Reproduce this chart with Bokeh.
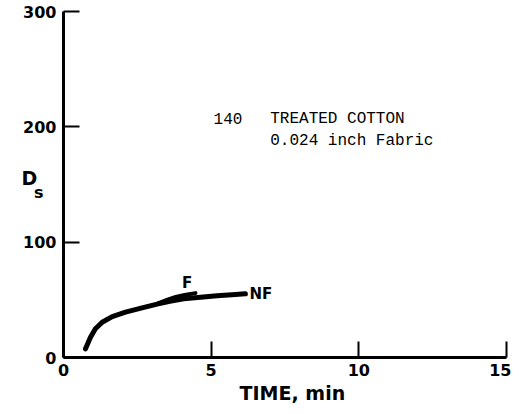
from bokeh.plotting import figure
from bokeh.models import Range1d, FixedTicker, Label
from bokeh.embed import file_html
from bokeh.resources import INLINE

# Data
nf_time = [0.745, 0.914, 1.08, 1.31, 1.65, 2.1, 2.66, 3.17, 3.6, 4.07, 4.64, 5.2, 5.7, 6.16]
nf_ds = [7.5, 17.6, 24.9, 30.6, 35.5, 39.3, 43, 46.3, 48.8, 50.9, 52.3, 53.5, 54.4, 55.2]
f_time = [3.2, 3.5, 3.8, 4.1, 4.47]
f_ds = [47, 50, 52.5, 54.2, 55.8]
x_ticks = [0, 5, 10, 15]
y_ticks = [0, 100, 200, 300]

W, H = 511, 406
X0, X15 = 63, 506     # pixel columns of time 0 and 15
Y0, Y300 = 357, 11    # pixel rows of Ds 0 and 300
kx = (X15 - X0) / 15.0
ky = (Y0 - Y300) / 300.0

p = figure(width=W, height=H,
           x_range=Range1d(-X0 / kx, 15 + (W - X15) / kx),
           y_range=Range1d(-(H - Y0) / ky, 300 + Y300 / ky),
           output_backend="svg", toolbar_location=None, min_border=0)
p.outline_line_color = None
p.grid.visible = False
p.background_fill_color = "white"
p.border_fill_color = "white"

for ax, ticks, bnd in ((p.xaxis[0], x_ticks, (0, 15)), (p.yaxis[0], y_ticks, (0, 300))):
    ax.ticker = FixedTicker(ticks=ticks)
    ax.fixed_location = 0
    ax.bounds = bnd
    ax.axis_line_width = 3
    ax.axis_line_color = "black"
    ax.major_tick_in = 16
    ax.major_tick_out = 0
    ax.major_tick_line_width = 2
    ax.major_tick_line_color = "black"
    ax.minor_tick_line_color = None
    ax.major_label_text_font = "DejaVu Sans"
    ax.major_label_text_font_style = "bold"
    ax.major_label_text_font_size = "16px"
    ax.major_label_text_color = "black"

p.yaxis.major_label_standoff = 7
p.xaxis.major_label_standoff = 6

p.line(nf_time, nf_ds, line_width=5, line_color="black", line_cap="round", line_join="round")
p.line(f_time, f_ds, line_width=4, line_color="black", line_cap="round", line_join="round")

def lab(x, y, text, font="DejaVu Sans", size="15px", style="bold", align="left"):
    p.add_layout(Label(x=x, y=y, text=text, text_font=font, text_font_style=style,
                       text_font_size=size, text_align=align, text_baseline="middle",
                       text_color="black"))

lab(4.19, 65, "F", align="center")
lab(6.3, 55, "NF")

lab(5.08, 207, "140", font="Liberation Mono", size="16px", style="normal")
lab(7.0, 207, "TREATED COTTON", font="Liberation Mono", size="16px", style="normal")
lab(7.0, 188, "0.024 inch Fabric", font="Liberation Mono", size="16px", style="normal")

# x axis title
lab(7.75, -30.5, "TIME, min", size="19px", style="bold", align="center")

# y axis title D_s
lab(-1.42, 156, "D", size="19px", style="bold")
lab(-1.0, 143, "s", size="16px", style="bold")

open("out.html", "w").write(file_html(p, INLINE))
